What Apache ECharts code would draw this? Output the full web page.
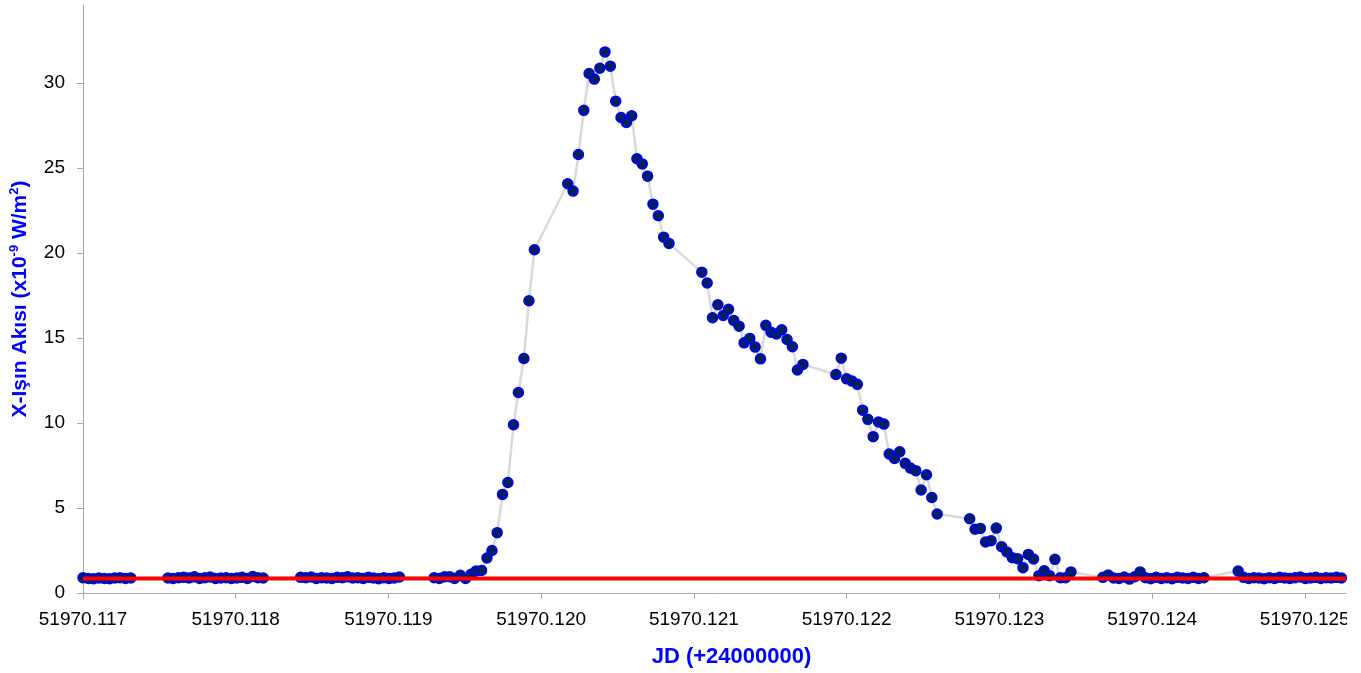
<!DOCTYPE html>
<html>
<head>
<meta charset="utf-8">
<script src="https://cdn.jsdelivr.net/npm/echarts@6/dist/echarts.min.js"></script>
<style>html,body{margin:0;padding:0;background:#fff}#c{width:1361px;height:673px}</style>
</head>
<body>
<div id="c"></div>
<script>
// Julian Date (+2400000) of each sample
const jd = [
  51970.117000, 51970.117035, 51970.117069, 51970.117104, 51970.117139, 51970.117174, 51970.117208, 51970.117243, 51970.117278, 51970.117313,
  51970.117556, 51970.117590, 51970.117625, 51970.117660, 51970.117694, 51970.117729, 51970.117764, 51970.117798, 51970.117833, 51970.117868,
  51970.117903, 51970.117937, 51970.117972, 51970.118007, 51970.118041, 51970.118076, 51970.118111, 51970.118145, 51970.118180,
  51970.118425, 51970.118459, 51970.118494, 51970.118528, 51970.118562, 51970.118596, 51970.118630, 51970.118664, 51970.118698, 51970.118732,
  51970.118766, 51970.118800, 51970.118834, 51970.118868, 51970.118902, 51970.118936, 51970.118970, 51970.119004, 51970.119038, 51970.119072,
  51970.119299, 51970.119333, 51970.119368, 51970.119401, 51970.119433, 51970.119471, 51970.119505, 51970.119541, 51970.119575, 51970.119610,
  51970.119645, 51970.119678, 51970.119712, 51970.119747, 51970.119782, 51970.119819, 51970.119851, 51970.119887, 51970.119920, 51970.119956,
  51970.120174, 51970.120209, 51970.120244, 51970.120279, 51970.120314, 51970.120348, 51970.120384, 51970.120418, 51970.120453, 51970.120488,
  51970.120523, 51970.120558, 51970.120593, 51970.120627, 51970.120662, 51970.120697, 51970.120732, 51970.120767, 51970.120802, 51970.120837,
  51970.121052, 51970.121087, 51970.121122, 51970.121157, 51970.121192, 51970.121227, 51970.121261, 51970.121296, 51970.121329, 51970.121366,
  51970.121401, 51970.121436, 51970.121471, 51970.121505, 51970.121540, 51970.121575, 51970.121610, 51970.121645, 51970.121678, 51970.121714,
  51970.121930, 51970.121965, 51970.122000, 51970.122035, 51970.122070, 51970.122105, 51970.122139, 51970.122174, 51970.122209, 51970.122244,
  51970.122279, 51970.122314, 51970.122348, 51970.122384, 51970.122418, 51970.122453, 51970.122488, 51970.122523, 51970.122558, 51970.122593,
  51970.122806, 51970.122841, 51970.122876, 51970.122910, 51970.122946, 51970.122980, 51970.123015, 51970.123050, 51970.123085, 51970.123120,
  51970.123155, 51970.123190, 51970.123224, 51970.123259, 51970.123294, 51970.123329, 51970.123364, 51970.123399, 51970.123433, 51970.123469,
  51970.123678, 51970.123713, 51970.123748, 51970.123783, 51970.123818, 51970.123852, 51970.123887, 51970.123922, 51970.123957, 51970.123992,
  51970.124027, 51970.124061, 51970.124096, 51970.124131, 51970.124166, 51970.124201, 51970.124236, 51970.124270, 51970.124305, 51970.124340,
  51970.124564,
  51970.124599, 51970.124633, 51970.124667, 51970.124700, 51970.124734, 51970.124768, 51970.124802, 51970.124835, 51970.124869, 51970.124903,
  51970.124937, 51970.124970, 51970.125004, 51970.125038, 51970.125072, 51970.125105, 51970.125139, 51970.125173, 51970.125207, 51970.125240
];
// X-ray flux (x10^-9 W/m^2)
const flux = [
  0.90, 0.86, 0.84, 0.88, 0.86, 0.84, 0.88, 0.90, 0.86, 0.88,
  0.88, 0.86, 0.90, 0.92, 0.88, 0.95, 0.86, 0.90, 0.94, 0.86,
  0.88, 0.90, 0.86, 0.88, 0.92, 0.86, 0.97, 0.90, 0.88,
  0.92, 0.90, 0.94, 0.86, 0.90, 0.88, 0.86, 0.92, 0.90, 0.95,
  0.88, 0.90, 0.86, 0.92, 0.88, 0.84, 0.90, 0.86, 0.88, 0.94,
  0.90, 0.85, 0.96, 0.96, 0.85, 1.04, 0.85, 1.10, 1.30, 1.33,
  2.06, 2.50, 3.55, 5.80, 6.50, 9.90, 11.80, 13.80, 17.20, 20.20,
  24.08, 23.65, 25.80, 28.40, 30.57, 30.24, 30.88, 31.84, 31.00, 28.94,
  27.98, 27.69, 28.08, 25.55, 25.25, 24.53, 22.88, 22.20, 20.94, 20.57,
  18.88, 18.24, 16.20, 16.96, 16.33, 16.70, 16.04, 15.70, 14.72, 14.98,
  14.47, 13.78, 15.75, 15.35, 15.24, 15.49, 14.92, 14.49, 13.12, 13.45,
  12.86, 13.82, 12.60, 12.47, 12.28, 10.76, 10.22, 9.20, 10.06, 9.94,
  8.18, 7.92, 8.31, 7.63, 7.35, 7.20, 6.06, 6.96, 5.62, 4.65,
  4.37, 3.75, 3.80, 3.00, 3.08, 3.82, 2.72, 2.41, 2.08, 2.02,
  1.49, 2.27, 2.00, 1.02, 1.31, 1.02, 1.98, 0.90, 0.90, 1.24,
  0.92, 1.06, 0.88, 0.86, 0.94, 0.82, 0.96, 1.24, 0.90, 0.84,
  0.92, 0.86, 0.90, 0.84, 0.92, 0.88, 0.86, 0.92, 0.86, 0.90,
  1.29,
  0.92, 0.86, 0.90, 0.88, 0.84, 0.90, 0.86, 0.92, 0.88, 0.86,
  0.90, 0.94, 0.86, 0.88, 0.92, 0.86, 0.90, 0.88, 0.92, 0.88
];
const baselineLevel = 0.85;
const xMin = 51970.117, xMax = 51970.12527, xInterval = 0.001;
const yMin = 0, yMax = 34.6, yInterval = 5;
const xTitle = 'JD (+24000000)';
const yTitleParts = ['X-Işın Akısı (x10', '-9', ' W/m', '2', ')'];

const FONT = '"Liberation Sans", Arial, sans-serif';
const chart = echarts.init(document.getElementById('c'), null, {renderer: 'canvas'});
const pts = jd.map((x, i) => [x, flux[i]]);
const axisGray = '#a6a6a6';

chart.setOption({
  animation: false,
  backgroundColor: '#ffffff',
  grid: {left: 81, right: 15, top: 5, bottom: 80, containLabel: false},
  xAxis: {
    type: 'value', min: xMin, max: xMax, interval: xInterval,
    axisLine: {show: true, onZero: false, lineStyle: {color: axisGray, width: 1}},
    axisTick: {show: true, length: 6, lineStyle: {color: axisGray, width: 1}},
    splitLine: {show: false},
    axisLabel: {
      showMaxLabel: false, fontSize: 19, color: '#000', fontFamily: FONT, margin: 17,
      formatter: v => Number(v).toFixed(3)
    },
    name: xTitle, nameLocation: 'middle', nameGap: 53,
    nameTextStyle: {color: '#0000ff', fontWeight: 'bold', fontSize: 22, fontFamily: FONT, padding: [0, 0, 0, 34]}
  },
  yAxis: {
    type: 'value', min: yMin, max: yMax, interval: yInterval,
    axisLine: {show: true, lineStyle: {color: axisGray, width: 1}},
    axisTick: {show: true, length: 6, lineStyle: {color: axisGray, width: 1}},
    splitLine: {show: false},
    axisLabel: {showMaxLabel: false, fontSize: 19, color: '#000', fontFamily: FONT, margin: 18},
    name: '{b|' + yTitleParts[0] + '}{s|' + yTitleParts[1] + '}{b|' + yTitleParts[2] + '}{s|' + yTitleParts[3] + '}{b|' + yTitleParts[4] + '}',
    nameLocation: 'middle', nameGap: 50, nameRotate: 90,
    nameTextStyle: {
      rich: {
        b: {color: '#0000ff', fontWeight: 'bold', fontSize: 21, fontFamily: FONT, lineHeight: 25},
        s: {color: '#0000ff', fontWeight: 'bold', fontSize: 13, fontFamily: FONT, lineHeight: 25, verticalAlign: 'top', padding: [0, 0, 10, 0]}
      }
    }
  },
  graphic: [{
    type: 'rect', right: 0, top: 600, shape: {width: 14, height: 40},
    style: {fill: '#ffffff'}, z: 100
  }],
  series: [
    {
      type: 'line', data: pts, symbol: 'circle', symbolSize: 10, showAllSymbol: true,
      lineStyle: {color: '#d9d9d9', width: 2.5},
      itemStyle: {color: '#002060', borderColor: '#0000ff', borderWidth: 1.5},
      z: 2
    },
    {
      type: 'line', data: [[xMin, baselineLevel], [xMax, baselineLevel]], symbol: 'none',
      lineStyle: {color: '#ff0000', width: 4}, z: 5, silent: true
    }
  ]
});
</script>
</body>
</html>
